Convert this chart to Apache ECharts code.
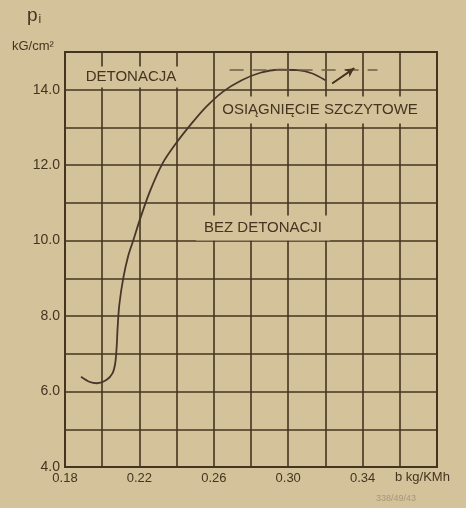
<!DOCTYPE html>
<html>
<head>
<meta charset="utf-8">
<script src="https://cdn.jsdelivr.net/npm/echarts@6/dist/echarts.min.js"></script>
<style>
  html, body { margin: 0; padding: 0; background: #d4c29b; }
  #chart { width: 466px; height: 508px; }
</style>
</head>
<body>
<div id="chart"></div>
<script>
// Specific fuel consumption b [kg/KMh] vs indicated pressure p_i [kG/cm²]
const fuelB = [0.1886, 0.1930, 0.1972, 0.2024, 0.2055, 0.2070, 0.2078, 0.2083, 0.2092, 0.2113,
               0.2140, 0.2170, 0.2202, 0.2256, 0.2326, 0.2400, 0.2480, 0.2560, 0.2650, 0.2750,
               0.2850, 0.2950, 0.3050, 0.3130, 0.3200];
const pressureP = [6.39, 6.26, 6.22, 6.31, 6.48, 6.75, 7.2, 7.7, 8.3, 9.0,
                   9.6, 10.05, 10.55, 11.3, 12.06, 12.6, 13.1, 13.55, 13.95, 14.25,
                   14.45, 14.53, 14.52, 14.43, 14.25];

// Peak level reference (dashed) and the arrow pointing at it
const peakLineB = [0.2685, 0.348];
const peakLineP = [14.52, 14.52];
const arrowB = [0.3237, 0.3355];
const arrowP = [14.17, 14.57];

// Labelled ticks
const xTickLabels = [0.18, 0.22, 0.26, 0.30, 0.34];
const yTickLabels = [4, 6, 8, 10, 12, 14];

const INK = '#45341f';
const PAPER = '#d4c29b';
const FONT = '"Liberation Sans", "DejaVu Sans", sans-serif';

const chart = echarts.init(document.getElementById('chart'), null, { renderer: 'canvas' });

const zip = (a, b) => a.map((v, i) => [v, b[i]]);

chart.setOption({
  backgroundColor: PAPER,
  animation: false,
  grid: {
    left: 65, right: 29, top: 52, bottom: 41,
    show: true, borderColor: INK, borderWidth: 2, backgroundColor: 'transparent'
  },
  xAxis: {
    type: 'value', min: 0.18, max: 0.38, interval: 0.02,
    axisLine: { show: true, onZero: false, lineStyle: { color: INK, width: 2 } },
    axisTick: { show: false },
    splitLine: { show: true, lineStyle: { color: INK, width: 1.6 } },
    axisLabel: {
      color: INK, fontFamily: FONT, fontSize: 13, margin: 5,
      formatter: v => xTickLabels.some(t => Math.abs(t - v) < 1e-6) ? v.toFixed(2) : ''
    }
  },
  yAxis: {
    type: 'value', min: 4, max: 15, interval: 1,
    axisLine: { show: true, onZero: false, lineStyle: { color: INK, width: 2 } },
    axisTick: { show: false },
    splitLine: { show: true, lineStyle: { color: INK, width: 1.6 } },
    axisLabel: {
      color: INK, fontFamily: FONT, fontSize: 14, margin: 5,
      formatter: v => yTickLabels.some(t => Math.abs(t - v) < 1e-6) ? v.toFixed(1) : ''
    }
  },
  series: [
    {
      type: 'line', name: 'p_i',
      data: zip(fuelB, pressureP),
      smooth: 0.3, showSymbol: false, z: 3,
      lineStyle: { color: '#47372a', width: 1.8 }
    },
    {
      type: 'line', name: 'peak',
      data: zip(peakLineB, peakLineP),
      showSymbol: false, z: 3,
      lineStyle: { color: '#6e5d45', width: 1.5, type: [14, 9] }
    },
    {
      type: 'line', name: 'arrow',
      data: zip(arrowB, arrowP),
      showSymbol: false, z: 3,
      lineStyle: { color: INK, width: 1.6 },
      markLine: {
        silent: true, symbol: ['none', 'arrow'], symbolSize: [7, 9],
        label: { show: false },
        lineStyle: { color: INK, width: 1.6, type: 'solid' },
        data: [[{ coord: [arrowB[0], arrowP[0]] }, { coord: [arrowB[1], arrowP[1]] }]]
      }
    }
  ],
  graphic: [
    {
      type: 'text', left: 27, top: 6, z: 10,
      style: {
        text: '{p|p}{s|i}', fill: INK,
        rich: {
          p: { fontSize: 19, fontFamily: FONT, fill: INK },
          s: { fontSize: 12, fontFamily: FONT, fill: INK, verticalAlign: 'bottom', padding: [9, 0, 0, 1] }
        }
      }
    },
    {
      type: 'text', left: 12, top: 40, z: 10,
      style: { text: 'kG/cm²', fontSize: 13, fontFamily: FONT, fill: INK }
    },
    {
      type: 'text', x: 131, y: 77, z: 10,
      style: {
        text: 'DETONACJA', fontSize: 15, fontFamily: FONT, fill: INK,
        align: 'center', verticalAlign: 'middle',
        backgroundColor: PAPER, padding: [3, 6, 3, 6]
      }
    },
    {
      type: 'text', x: 320, y: 110, z: 10,
      style: {
        text: 'OSIĄGNIĘCIE SZCZYTOWE', fontSize: 15, fontFamily: FONT, fill: INK,
        align: 'center', verticalAlign: 'middle',
        backgroundColor: PAPER, padding: [6, 4, 6, 4]
      }
    },
    {
      type: 'text', x: 263, y: 228, z: 10,
      style: {
        text: 'BEZ DETONACJI', fontSize: 15, fontFamily: FONT, fill: INK,
        align: 'center', verticalAlign: 'middle',
        backgroundColor: PAPER, padding: [5, 8, 5, 8]
      }
    },
    {
      type: 'text', x: 395, y: 477, z: 10,
      style: {
        text: 'b kg/KMh', fontSize: 13, fontFamily: FONT, fill: INK,
        align: 'left', verticalAlign: 'middle'
      }
    },
    {
      type: 'text', x: 396, y: 499, z: 10,
      style: {
        text: '338/49/43', fontSize: 9, fontFamily: FONT, fill: '#a6977a',
        align: 'center', verticalAlign: 'middle'
      }
    }
  ]
});
</script>
</body>
</html>
